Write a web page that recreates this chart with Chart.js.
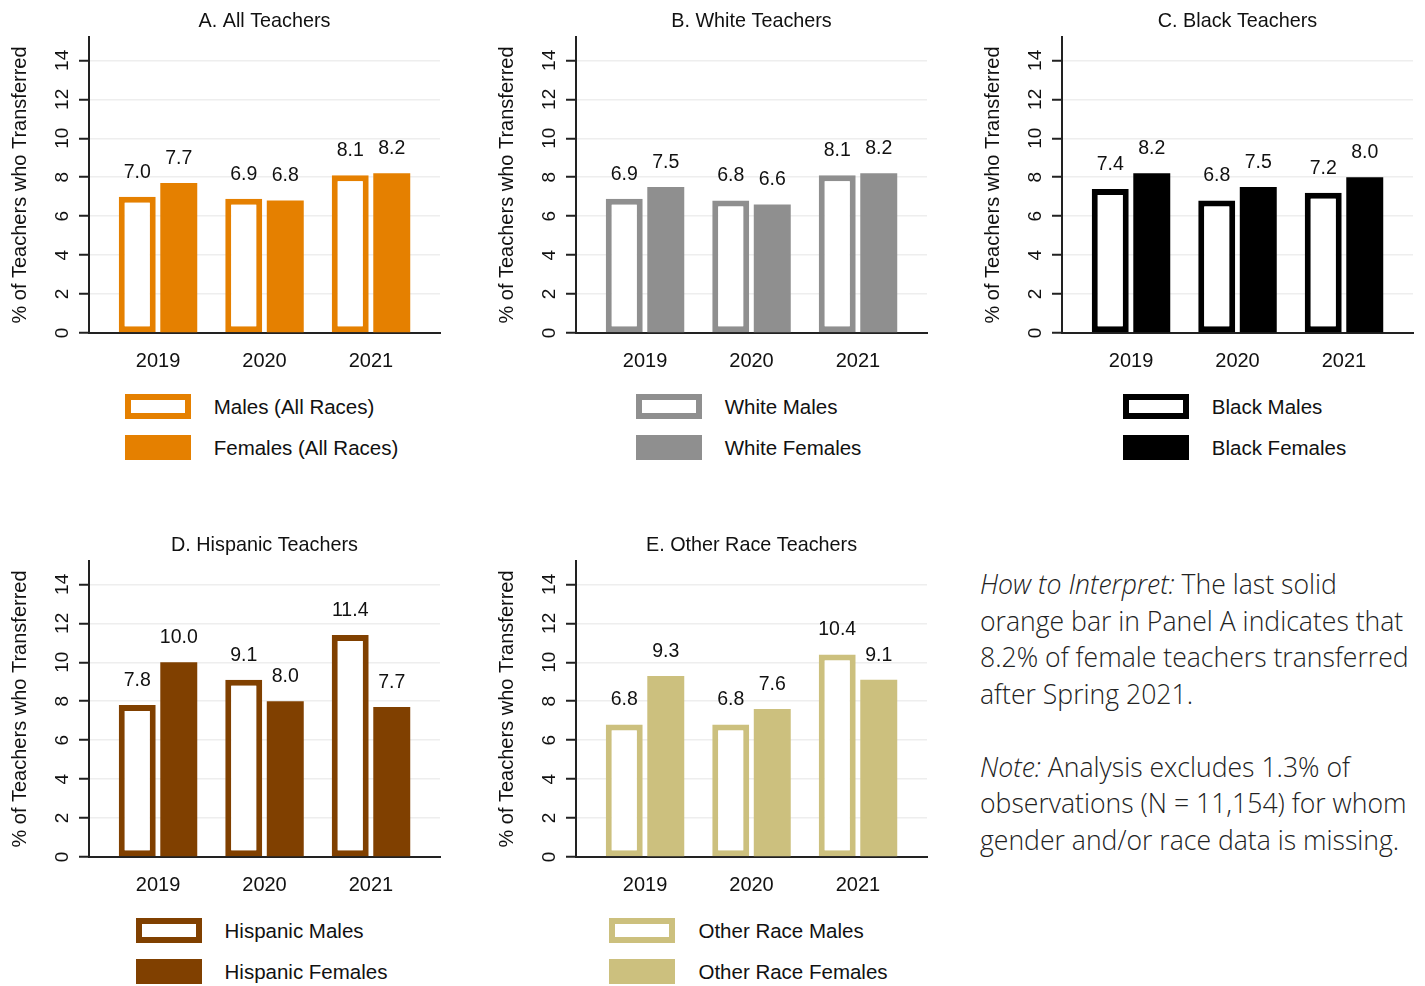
<!DOCTYPE html>
<html>
<head>
<meta charset="utf-8">
<script src="https://cdn.jsdelivr.net/npm/chart.js@4/dist/chart.umd.min.js"></script>
<style>
  html, body { margin: 0; padding: 0; background: #fff; width: 1425px; height: 986px; overflow: hidden; }
  .panel { position: absolute; }
  .panel canvas { position: absolute; left: 0; top: 0; }
  .legend { position: absolute; display: flex; justify-content: center; font-family: "Liberation Sans", Arial, sans-serif; font-size: 20.5px; color: #111; }
  .legend-inner { display: flex; flex-direction: column; gap: 16px; }
  .legend-row { display: flex; align-items: center; height: 25px; }
  .swatch { width: 66px; height: 25px; box-sizing: border-box; margin-right: 23px; flex: none; }
  .note { position: absolute; left: 980px; top: 566px; font-family: "Open Sans", sans-serif; font-weight: 300; font-size: 26.6px; line-height: 36.5px; color: #222; white-space: nowrap; }
  .note i { font-style: italic; }
</style>
</head>
<body>
<div id="root"></div>
<div class="note">
  <i>How to Interpret:</i> The last solid<br>
  orange bar in Panel A indicates that<br>
  8.2% of female teachers transferred<br>
  after Spring 2021.<br>
  <br>
  <i>Note:</i> Analysis excludes 1.3% of<br>
  observations (N = 11,154) for whom<br>
  gender and/or race data is missing.
</div>
<script>
// Survey years on the x axis
const years = ['2019', '2020', '2021'];
// y-axis ticks
const yTicks = [0, 2, 4, 6, 8, 10, 12, 14];

// % of teachers who transferred, by group
const allMales = [7.0, 6.9, 8.1];
const allFemales = [7.7, 6.8, 8.2];
const whiteMales = [6.9, 6.8, 8.1];
const whiteFemales = [7.5, 6.6, 8.2];
const blackMales = [7.4, 6.8, 7.2];
const blackFemales = [8.2, 7.5, 8.0];
const hispanicMales = [7.8, 9.1, 11.4];
const hispanicFemales = [10.0, 8.0, 7.7];
const otherMales = [6.8, 6.8, 10.4];
const otherFemales = [9.3, 7.6, 9.1];

const FONT = '"Liberation Sans", Arial, sans-serif';
Chart.defaults.font.family = FONT;
Chart.defaults.color = '#111';

const panels = [
  { title: 'A. All Teachers', color: '#E58000', males: allMales, females: allFemales,
    mLabel: 'Males (All Races)', fLabel: 'Females (All Races)', left: 0, top: 0 },
  { title: 'B. White Teachers', color: '#8F8F8F', males: whiteMales, females: whiteFemales,
    mLabel: 'White Males', fLabel: 'White Females', left: 487, top: 0 },
  { title: 'C. Black Teachers', color: '#000000', males: blackMales, females: blackFemales,
    mLabel: 'Black Males', fLabel: 'Black Females', left: 973, top: 0 },
  { title: 'D. Hispanic Teachers', color: '#804000', males: hispanicMales, females: hispanicFemales,
    mLabel: 'Hispanic Males', fLabel: 'Hispanic Females', left: 0, top: 524 },
  { title: 'E. Other Race Teachers', color: '#CCC07E', males: otherMales, females: otherFemales,
    mLabel: 'Other Race Males', fLabel: 'Other Race Females', left: 487, top: 524 }
];

// Value labels above each bar and a panel title centred over the plot area
const barLabels = {
  id: 'barLabels',
  afterDatasetsDraw(chart) {
    const ctx = chart.ctx;
    ctx.save();
    ctx.font = '19.5px ' + FONT;
    ctx.fillStyle = '#111';
    ctx.textAlign = 'center';
    ctx.textBaseline = 'middle';
    chart.data.datasets.forEach((ds, i) => {
      chart.getDatasetMeta(i).data.forEach((bar, j) => {
        ctx.fillText(ds.data[j].y.toFixed(1), bar.x, bar.y - 24.5);
      });
    });
    const area = chart.chartArea;
    ctx.font = '19.8px ' + FONT;
    ctx.fillText(chart.options.panelTitle, (area.left + area.right) / 2, 21.5);
    ctx.restore();
  }
};

const root = document.getElementById('root');

panels.forEach(p => {
  const wrap = document.createElement('div');
  wrap.className = 'panel';
  wrap.style.left = p.left + 'px';
  wrap.style.top = p.top + 'px';
  wrap.style.width = '452px';
  wrap.style.height = '470px';
  const canvas = document.createElement('canvas');
  canvas.width = 452;
  canvas.height = 380;
  canvas.style.width = '452px';
  canvas.style.height = '380px';
  wrap.appendChild(canvas);

  // legend
  const leg = document.createElement('div');
  leg.className = 'legend';
  leg.style.left = '86px';
  leg.style.width = '351px';
  leg.style.top = '394px';
  leg.innerHTML =
    '<div class="legend-inner">' +
      '<div class="legend-row"><span class="swatch" style="border:6px solid ' + p.color + ';background:#fff"></span>' + p.mLabel + '</div>' +
      '<div class="legend-row"><span class="swatch" style="background:' + p.color + '"></span>' + p.fLabel + '</div>' +
    '</div>';
  wrap.appendChild(leg);
  root.appendChild(wrap);

  new Chart(canvas, {
    type: 'bar',
    data: {
      datasets: [
        {
          label: p.mLabel,
          data: p.males.map((v, i) => ({ x: i, y: v })),
          backgroundColor: '#ffffff',
          borderColor: p.color,
          borderWidth: 6,
          borderSkipped: false,
          categoryPercentage: 0.78,
          barPercentage: 0.89
        },
        {
          label: p.fLabel,
          data: p.females.map((v, i) => ({ x: i, y: v })),
          backgroundColor: p.color,
          borderWidth: 0,
          categoryPercentage: 0.78,
          barPercentage: 0.89
        }
      ]
    },
    options: {
      panelTitle: p.title,
      responsive: false,
      animation: false,
      devicePixelRatio: 1,
      layout: { padding: { left: 0, right: 12, top: 37, bottom: 0 } },
      plugins: { legend: { display: false }, tooltip: { enabled: false }, title: { display: false } },
      scales: {
        x: {
          type: 'linear',
          offset: false,
          min: -0.648,
          max: 2.648,
          afterFit: s => { s.height = 47; },
          afterBuildTicks: s => { s.ticks = years.map((_, i) => ({ value: i })); },
          ticks: {
            callback: v => years[v],
            font: { size: 20 },
            color: '#111',
            padding: 16,
            maxRotation: 0,
            minRotation: 0
          },
          grid: { display: false, drawTicks: false },
          border: { color: '#222', width: 2 }
        },
        y: {
          min: 0,
          max: 15.2,
          afterFit: s => { s.width = 89; },
          afterBuildTicks: s => { s.ticks = yTicks.map(v => ({ value: v })); },
          ticks: {
            font: { size: 19 },
            color: '#111',
            minRotation: 90,
            maxRotation: 90,
            crossAlign: 'center',
            padding: 6
          },
          grid: { color: '#eeeeee', lineWidth: 1.5, tickColor: '#222', tickLength: 10, tickWidth: 2 },
          border: { color: '#222', width: 2 },
          title: {
            display: true,
            text: '% of Teachers who Transferred',
            font: { size: 20 },
            color: '#111',
            padding: { top: 8, bottom: 0 }
          }
        }
      }
    },
    plugins: [barLabels]
  });
});
</script>
</body>
</html>
